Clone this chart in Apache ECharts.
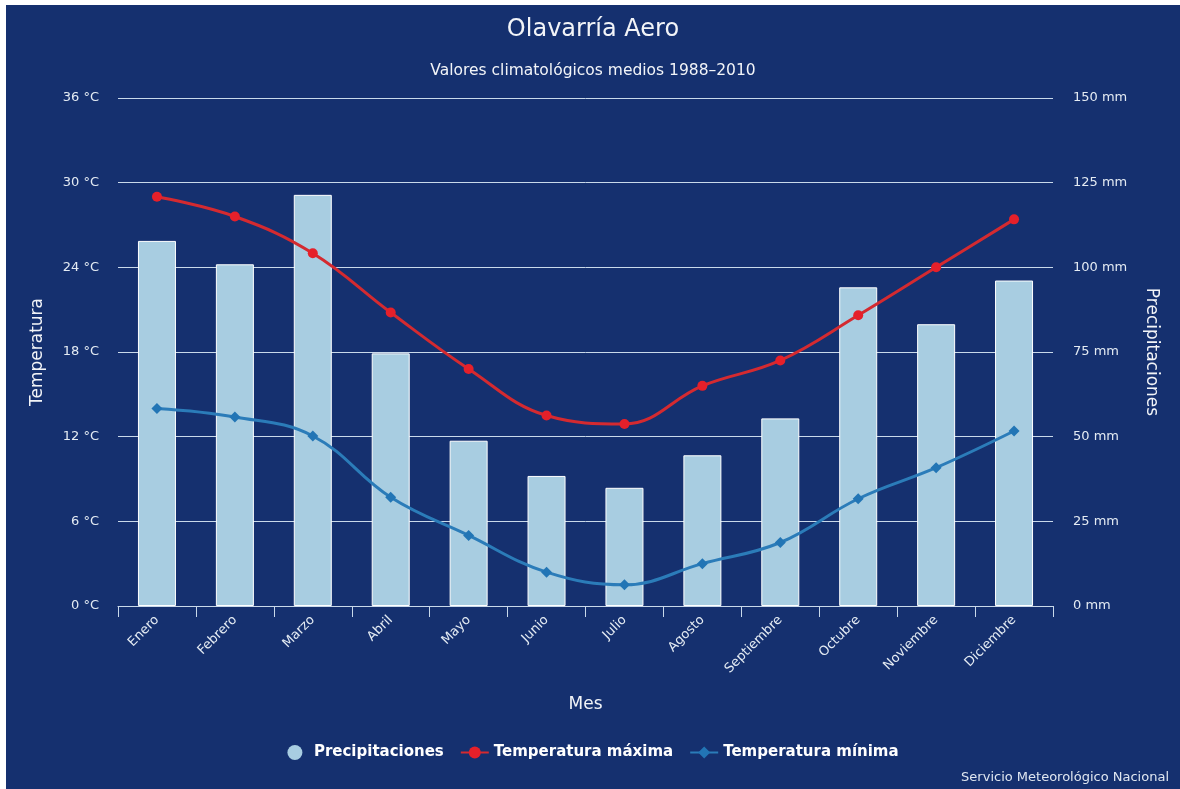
<!DOCTYPE html>
<html>
<head>
<meta charset="utf-8">
<title>Olavarría Aero</title>
<script src="https://cdn.jsdelivr.net/npm/echarts@6/dist/echarts.min.js"></script>
<style>
  html, body { margin: 0; padding: 0; background: #ffffff; }
  #chart { position: absolute; left: 6px; top: 5px; width: 1174px; height: 784px; background: #15306f; }
</style>
</head>
<body>
<div id="chart"></div>
<script>
// meses
const months = ['Enero', 'Febrero', 'Marzo', 'Abril', 'Mayo', 'Junio', 'Julio', 'Agosto', 'Septiembre', 'Octubre', 'Noviembre', 'Diciembre'];
// precipitaciones (mm)
const precip = [107.8, 100.9, 121.4, 74.6, 48.8, 38.4, 34.9, 44.5, 55.4, 94.1, 83.2, 96.1];
// temperatura máxima (°C)
const tempMax = [29.0, 27.6, 25.0, 20.8, 16.8, 13.5, 12.9, 15.6, 17.4, 20.6, 24.0, 27.4];
// temperatura mínima (°C)
const tempMin = [14.0, 13.4, 12.05, 7.7, 5.0, 2.4, 1.5, 3.0, 4.5, 7.6, 9.8, 12.4];

const font = 'DejaVu Sans';
const light = '#c9d9ea';

const chart = echarts.init(document.getElementById('chart'));
chart.setOption({
  backgroundColor: '#15306f',
  textStyle: { fontFamily: font },
  title: [
    {
      text: 'Olavarría Aero',
      left: 'center',
      top: 8,
      textStyle: { color: '#f2f4f8', fontSize: 24, fontWeight: 'normal', fontFamily: font }
    },
    {
      text: 'Valores climatológicos medios 1988–2010',
      left: 'center',
      top: 53,
      textStyle: { color: '#f2f4f8', fontSize: 15.5, fontWeight: 'normal', fontFamily: font }
    },
    {
      text: 'Servicio Meteorológico Nacional',
      right: 6,
      bottom: 0,
      textStyle: { color: '#dfe6f0', fontSize: 13, fontWeight: 'normal', fontFamily: font }
    }
  ],
  legend: {
    bottom: 24,
    left: 'center',
    itemGap: 16,
    itemWidth: 28,
    itemHeight: 15,
    textStyle: { color: '#ffffff', fontSize: 15, fontWeight: 'bold', fontFamily: font },
    data: [
      { name: 'Precipitaciones', icon: 'circle', itemStyle: { borderWidth: 0 } },
      { name: 'Temperatura máxima' },
      { name: 'Temperatura mínima' }
    ]
  },
  grid: { left: 112, right: 127, top: 93, bottom: 183 },
  xAxis: {
    type: 'category',
    data: months,
    name: 'Mes',
    nameLocation: 'middle',
    nameGap: 90,
    nameTextStyle: { color: '#f2f4f8', fontSize: 17 },
    axisLine: { lineStyle: { color: light, width: 1 } },
    axisTick: { show: true, alignWithLabel: false, length: 11, lineStyle: { color: light } },
    axisLabel: { color: '#e4ebf3', fontSize: 13, rotate: 45, margin: 12, interval: 0 }
  },
  yAxis: [
    {
      type: 'value',
      min: 0,
      max: 36,
      interval: 6,
      name: 'Temperatura',
      nameLocation: 'middle',
      nameGap: 72,
      nameRotate: 90,
      nameTextStyle: { color: '#f2f4f8', fontSize: 17 },
      axisLine: { show: false },
      axisTick: { show: false },
      axisLabel: { color: '#e4ebf3', fontSize: 13, margin: 19, formatter: '{value} °C' },
      splitLine: { lineStyle: { color: light, width: 1 } }
    },
    {
      type: 'value',
      min: 0,
      max: 150,
      interval: 25,
      name: 'Precipitaciones',
      nameLocation: 'middle',
      nameGap: 90,
      nameRotate: -90,
      nameTextStyle: { color: '#f2f4f8', fontSize: 17 },
      axisLine: { show: false },
      axisTick: { show: false },
      axisLabel: { color: '#e4ebf3', fontSize: 13, margin: 20, formatter: '{value} mm' },
      splitLine: { show: false }
    }
  ],
  series: [
    {
      name: 'Precipitaciones',
      type: 'bar',
      yAxisIndex: 1,
      data: precip,
      barWidth: 38,
      itemStyle: { color: '#a8cde1', borderColor: '#ffffff', borderWidth: 1 },
      z: 1
    },
    {
      name: 'Temperatura máxima',
      type: 'line',
      yAxisIndex: 0,
      data: tempMax,
      smooth: 0.4,
      symbol: 'circle',
      symbolSize: 10,
      lineStyle: { color: '#d42a30', width: 3 },
      itemStyle: { color: '#e5202a' },
      z: 3
    },
    {
      name: 'Temperatura mínima',
      type: 'line',
      yAxisIndex: 0,
      data: tempMin,
      smooth: 0.4,
      symbol: 'diamond',
      symbolSize: 11,
      lineStyle: { color: '#2b7cb9', width: 3 },
      itemStyle: { color: '#2275b5' },
      z: 3
    }
  ]
});
</script>
</body>
</html>
